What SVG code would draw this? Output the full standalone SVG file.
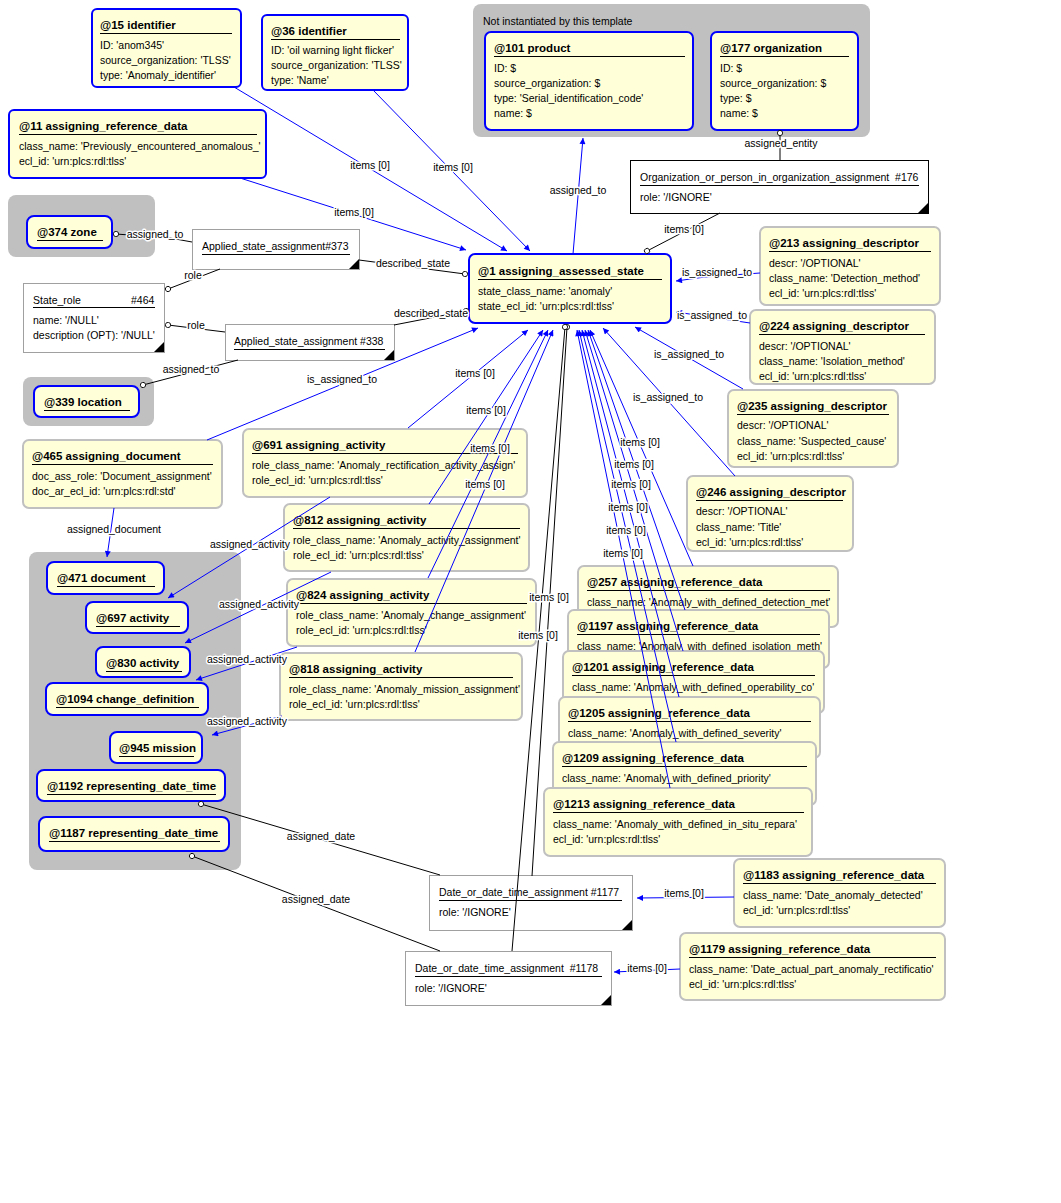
<svg xmlns="http://www.w3.org/2000/svg" width="1061" height="1203" viewBox="0 0 1061 1203">
<style>
.bg{fill:#fff}
.grp{fill:#c0c0c0}
.n{fill:#ffffd8;stroke:#0000ff;stroke-width:2}
.g{fill:#ffffd8;stroke:#c0c0c0;stroke-width:2}
.w{fill:#fff;stroke:#a0a0a0;stroke-width:1}
.wk{fill:#fff;stroke:#000;stroke-width:1}
.t{font-family:"Liberation Sans",Arial,sans-serif;font-size:11.5px;font-weight:bold;fill:#000}
.a{font-family:"Liberation Sans",Arial,sans-serif;font-size:10.5px;fill:#000}
.ul{stroke:#000;stroke-width:1}
.tri{fill:#000}
.bl{stroke:#0000ff;stroke-width:1;fill:none;marker-end:url(#arr)}
.bk{stroke:#000;stroke-width:1;fill:none;marker-end:url(#circ)}
.lb{font-family:"Liberation Sans",Arial,sans-serif;font-size:10.5px;fill:#000;text-anchor:middle;paint-order:stroke;stroke:#fff;stroke-width:3px;stroke-linejoin:round}
</style>
<defs>
<marker id="arr" viewBox="0 0 10 10" refX="10" refY="5" markerWidth="9" markerHeight="6" markerUnits="userSpaceOnUse" orient="auto">
<path d="M0,0 L10,5 L0,10 z" fill="#0000ff"/>
</marker>
<marker id="circ" viewBox="0 0 8 8" refX="4" refY="4" markerWidth="7" markerHeight="7" markerUnits="userSpaceOnUse" orient="auto">
<circle cx="4" cy="4" r="3" fill="#fff" stroke="#000" stroke-width="1"/>
</marker>
</defs>
<rect class="bg" x="0" y="0" width="1061" height="1203"/>

<!-- groups -->
<g id="grp_not_inst">
<rect class="grp" x="473" y="4" width="397" height="133" rx="8"/>
<text class="a" x="483" y="25">Not instantiated by this template</text>
</g>
<g id="grp_zone"><rect class="grp" x="8" y="195" width="147" height="62" rx="8"/></g>
<g id="grp_location"><rect class="grp" x="23" y="377" width="131" height="49" rx="8"/></g>
<g id="grp_left"><rect class="grp" x="29" y="552" width="212" height="318" rx="8"/></g>

<!-- nodes -->
<g id="n15">
<rect class="n" x="92" y="9" width="149" height="78" rx="5"/>
<text class="t" x="100" y="29">@15 identifier</text><line class="ul" x1="100" y1="33.5" x2="232" y2="33.5"/>
<text class="a" x="100" y="49">ID: 'anom345'</text>
<text class="a" x="100" y="64">source_organization: 'TLSS'</text>
<text class="a" x="100" y="79">type: 'Anomaly_identifier'</text>
</g>
<g id="n36">
<rect class="n" x="262" y="15" width="146" height="75" rx="5"/>
<text class="t" x="271" y="35">@36 identifier</text><line class="ul" x1="271" y1="39.5" x2="400" y2="39.5"/>
<text class="a" x="271" y="54">ID: 'oil warning light flicker'</text>
<text class="a" x="271" y="69">source_organization: 'TLSS'</text>
<text class="a" x="271" y="84">type: 'Name'</text>
</g>
<g id="n11">
<rect class="n" x="9" y="110" width="257" height="68" rx="5"/>
<text class="t" x="19" y="130">@11 assigning_reference_data</text><line class="ul" x1="19" y1="134.5" x2="257" y2="134.5"/>
<text class="a" x="19" y="150">class_name: 'Previously_encountered_anomalous_'</text>
<text class="a" x="19" y="165">ecl_id: 'urn:plcs:rdl:tlss'</text>
</g>
<g id="n101">
<rect class="n" x="485" y="32" width="208" height="98" rx="6"/>
<text class="t" x="494" y="52">@101 product</text><line class="ul" x1="494" y1="56.5" x2="685" y2="56.5"/>
<text class="a" x="494" y="72">ID: $</text>
<text class="a" x="494" y="87">source_organization: $</text>
<text class="a" x="494" y="102">type: 'Serial_identification_code'</text>
<text class="a" x="494" y="117">name: $</text>
</g>
<g id="n177">
<rect class="n" x="711" y="32" width="147" height="98" rx="6"/>
<text class="t" x="720" y="52">@177 organization</text><line class="ul" x1="720" y1="56.5" x2="849" y2="56.5"/>
<text class="a" x="720" y="72">ID: $</text>
<text class="a" x="720" y="87">source_organization: $</text>
<text class="a" x="720" y="102">type: $</text>
<text class="a" x="720" y="117">name: $</text>
</g>
<g id="n176">
<rect class="wk" x="630.5" y="160.5" width="298" height="53"/>
<text class="a" x="640" y="181">Organization_or_person_in_organization_assignment&#160; #176</text><line class="ul" x1="640" y1="185.5" x2="919" y2="185.5"/>
<text class="a" x="640" y="201">role: '/IGNORE'</text>
<path class="tri" d="M918,213 L928,203 L928,213 z"/>
</g>
<g id="n374">
<rect class="n" x="27" y="216" width="85" height="32" rx="7"/>
<text class="t" x="37" y="236">@374 zone</text><line class="ul" x1="37" y1="240.5" x2="103" y2="240.5"/>
</g>
<g id="n373">
<rect class="w" x="192.5" y="229.5" width="167" height="40"/>
<text class="a" x="202" y="250">Applied_state_assignment#373</text><line class="ul" x1="202" y1="254.5" x2="350" y2="254.5"/>
<path class="tri" d="M349,269 L359,259 L359,269 z"/>
</g>
<g id="n464">
<rect class="w" x="23.5" y="283.5" width="141" height="69"/>
<text class="a" x="33" y="304">State_role</text><text class="a" x="131" y="304">#464</text>
<line class="ul" x1="33" y1="307.5" x2="155" y2="307.5"/>
<text class="a" x="33" y="324">name: '/NULL'</text>
<text class="a" x="33" y="339">description (OPT): '/NULL'</text>
<path class="tri" d="M154,352 L164,342 L164,352 z"/>
</g>
<g id="n338">
<rect class="w" x="225.5" y="324.5" width="169" height="36"/>
<text class="a" x="234" y="345">Applied_state_assignment #338</text><line class="ul" x1="234" y1="349.5" x2="385" y2="349.5"/>
<path class="tri" d="M384,360 L394,350 L394,360 z"/>
</g>
<g id="n339">
<rect class="n" x="34" y="386" width="105" height="31" rx="7"/>
<text class="t" x="44" y="406">@339 location</text><line class="ul" x1="44" y1="410.5" x2="130" y2="410.5"/>
</g>
<g id="n1">
<rect class="n" x="469" y="254" width="202" height="69" rx="6"/>
<text class="t" x="478" y="275">@1 assigning_assessed_state</text><line class="ul" x1="478" y1="279.5" x2="662" y2="279.5"/>
<text class="a" x="478" y="295">state_class_name: 'anomaly'</text>
<text class="a" x="478" y="310">state_ecl_id: 'urn:plcs:rdl:tlss'</text>
</g>
<g id="n213">
<rect class="g" x="760" y="227" width="180" height="78" rx="6"/>
<text class="t" x="769" y="247">@213 assigning_descriptor</text><line class="ul" x1="769" y1="251.5" x2="931" y2="251.5"/>
<text class="a" x="769" y="267">descr: '/OPTIONAL'</text>
<text class="a" x="769" y="282">class_name: 'Detection_method'</text>
<text class="a" x="769" y="297">ecl_id: 'urn:plcs:rdl:tlss'</text>
</g>
<g id="n224">
<rect class="g" x="750" y="310" width="185" height="74" rx="6"/>
<text class="t" x="759" y="330">@224 assigning_descriptor</text><line class="ul" x1="759" y1="334.5" x2="925" y2="334.5"/>
<text class="a" x="759" y="350">descr: '/OPTIONAL'</text>
<text class="a" x="759" y="365">class_name: 'Isolation_method'</text>
<text class="a" x="759" y="380">ecl_id: 'urn:plcs:rdl:tlss'</text>
</g>
<g id="n235">
<rect class="g" x="728" y="390" width="170" height="77" rx="6"/>
<text class="t" x="737" y="410">@235 assigning_descriptor</text><line class="ul" x1="737" y1="414.5" x2="889" y2="414.5"/>
<text class="a" x="737" y="429">descr: '/OPTIONAL'</text>
<text class="a" x="737" y="445">class_name: 'Suspected_cause'</text>
<text class="a" x="737" y="460">ecl_id: 'urn:plcs:rdl:tlss'</text>
</g>
<g id="n246">
<rect class="g" x="687" y="476" width="166" height="75" rx="6"/>
<text class="t" x="696" y="496">@246 assigning_descriptor</text><line class="ul" x1="696" y1="500.5" x2="843" y2="500.5"/>
<text class="a" x="696" y="515">descr: '/OPTIONAL'</text>
<text class="a" x="696" y="531">class_name: 'Title'</text>
<text class="a" x="696" y="546">ecl_id: 'urn:plcs:rdl:tlss'</text>
</g>
<g id="n465">
<rect class="g" x="23" y="440" width="199" height="68" rx="6"/>
<text class="t" x="32" y="460">@465 assigning_document</text><line class="ul" x1="32" y1="464.5" x2="213" y2="464.5"/>
<text class="a" x="32" y="480">doc_ass_role: 'Document_assignment'</text>
<text class="a" x="32" y="495">doc_ar_ecl_id: 'urn:plcs:rdl:std'</text>
</g>
<g id="n691">
<rect class="g" x="243" y="429" width="284" height="68" rx="6"/>
<text class="t" x="252" y="449">@691 assigning_activity</text><line class="ul" x1="252" y1="453.5" x2="518" y2="453.5"/>
<text class="a" x="252" y="469">role_class_name: 'Anomaly_rectification_activity_assign'</text>
<text class="a" x="252" y="484">role_ecl_id: 'urn:plcs:rdl:tlss'</text>
</g>
<g id="n812">
<rect class="g" x="284" y="504" width="245" height="67" rx="6"/>
<text class="t" x="293" y="524">@812 assigning_activity</text><line class="ul" x1="293" y1="528.5" x2="520" y2="528.5"/>
<text class="a" x="293" y="544">role_class_name: 'Anomaly_activity_assignment'</text>
<text class="a" x="293" y="559">role_ecl_id: 'urn:plcs:rdl:tlss'</text>
</g>
<g id="n824">
<rect class="g" x="287" y="579" width="249" height="67" rx="6"/>
<text class="t" x="296" y="599">@824 assigning_activity</text><line class="ul" x1="296" y1="603.5" x2="527" y2="603.5"/>
<text class="a" x="296" y="619">role_class_name: 'Anomaly_change_assignment'</text>
<text class="a" x="296" y="634">role_ecl_id: 'urn:plcs:rdl:tlss'</text>
</g>
<g id="n818">
<rect class="g" x="280" y="653" width="242" height="67" rx="6"/>
<text class="t" x="289" y="673">@818 assigning_activity</text><line class="ul" x1="289" y1="677.5" x2="513" y2="677.5"/>
<text class="a" x="289" y="693">role_class_name: 'Anomaly_mission_assignment'</text>
<text class="a" x="289" y="708">role_ecl_id: 'urn:plcs:rdl:tlss'</text>
</g>
<g id="n471">
<rect class="n" x="47" y="562" width="117" height="32" rx="7"/>
<text class="t" x="57" y="582">@471 document</text><line class="ul" x1="57" y1="586.5" x2="155" y2="586.5"/>
</g>
<g id="n697">
<rect class="n" x="86" y="602" width="102" height="31" rx="7"/>
<text class="t" x="96" y="622">@697 activity</text><line class="ul" x1="96" y1="626.5" x2="180" y2="626.5"/>
</g>
<g id="n830">
<rect class="n" x="96" y="647" width="94" height="30" rx="7"/>
<text class="t" x="106" y="667">@830 activity</text><line class="ul" x1="106" y1="671.5" x2="182" y2="671.5"/>
</g>
<g id="n1094">
<rect class="n" x="46" y="683" width="162" height="32" rx="7"/>
<text class="t" x="56" y="703">@1094 change_definition</text><line class="ul" x1="56" y1="707.5" x2="199" y2="707.5"/>
</g>
<g id="n945">
<rect class="n" x="110" y="732" width="92" height="31" rx="7"/>
<text class="t" x="119" y="752">@945 mission</text><line class="ul" x1="119" y1="756.5" x2="194" y2="756.5"/>
</g>
<g id="n1192">
<rect class="n" x="37" y="770" width="188" height="31" rx="7"/>
<text class="t" x="47" y="790">@1192 representing_date_time</text><line class="ul" x1="47" y1="794.5" x2="216" y2="794.5"/>
</g>
<g id="n1187">
<rect class="n" x="39" y="817" width="190" height="34" rx="7"/>
<text class="t" x="49" y="837">@1187 representing_date_time</text><line class="ul" x1="49" y1="841.5" x2="220" y2="841.5"/>
</g>
<g id="n257">
<rect class="g" x="578" y="566" width="260" height="61" rx="6"/>
<text class="t" x="587" y="586">@257 assigning_reference_data</text><line class="ul" x1="587" y1="590.5" x2="830" y2="590.5"/>
<text class="a" x="587" y="606">class_name: 'Anomaly_with_defined_detection_met'</text>
</g>
<g id="n1197">
<rect class="g" x="568" y="610" width="261" height="58" rx="6"/>
<text class="t" x="577" y="630">@1197 assigning_reference_data</text><line class="ul" x1="577" y1="634.5" x2="820" y2="634.5"/>
<text class="a" x="577" y="650">class_name: 'Anomaly_with_defined_isolation_meth'</text>
</g>
<g id="n1201">
<rect class="g" x="563" y="651" width="261" height="62" rx="6"/>
<text class="t" x="572" y="671">@1201 assigning_reference_data</text><line class="ul" x1="572" y1="675.5" x2="815" y2="675.5"/>
<text class="a" x="572" y="691">class_name: 'Anomaly_with_defined_operability_co'</text>
</g>
<g id="n1205">
<rect class="g" x="559" y="697" width="261" height="61" rx="6"/>
<text class="t" x="568" y="717">@1205 assigning_reference_data</text><line class="ul" x1="568" y1="721.5" x2="811" y2="721.5"/>
<text class="a" x="568" y="737">class_name: 'Anomaly_with_defined_severity'</text>
</g>
<g id="n1209">
<rect class="g" x="553" y="742" width="263" height="63" rx="6"/>
<text class="t" x="562" y="762">@1209 assigning_reference_data</text><line class="ul" x1="562" y1="766.5" x2="807" y2="766.5"/>
<text class="a" x="562" y="782">class_name: 'Anomaly_with_defined_priority'</text>
</g>
<g id="n1213">
<rect class="g" x="544" y="788" width="268" height="68" rx="6"/>
<text class="t" x="553" y="808">@1213 assigning_reference_data</text><line class="ul" x1="553" y1="812.5" x2="804" y2="812.5"/>
<text class="a" x="553" y="828">class_name: 'Anomaly_with_defined_in_situ_repara'</text>
<text class="a" x="553" y="843">ecl_id: 'urn:plcs:rdl:tlss'</text>
</g>
<g id="n1183">
<rect class="g" x="734" y="859" width="211" height="68" rx="6"/>
<text class="t" x="743" y="879">@1183 assigning_reference_data</text><line class="ul" x1="743" y1="883.5" x2="936" y2="883.5"/>
<text class="a" x="743" y="899">class_name: 'Date_anomaly_detected'</text>
<text class="a" x="743" y="914">ecl_id: 'urn:plcs:rdl:tlss'</text>
</g>
<g id="n1179">
<rect class="g" x="680" y="933" width="265" height="67" rx="6"/>
<text class="t" x="689" y="953">@1179 assigning_reference_data</text><line class="ul" x1="689" y1="957.5" x2="936" y2="957.5"/>
<text class="a" x="689" y="973">class_name: 'Date_actual_part_anomaly_rectificatio'</text>
<text class="a" x="689" y="988">ecl_id: 'urn:plcs:rdl:tlss'</text>
</g>
<g id="n1177">
<rect class="w" x="429.5" y="875.5" width="203" height="55"/>
<text class="a" x="439" y="896">Date_or_date_time_assignment #1177</text><line class="ul" x1="439" y1="900.5" x2="622" y2="900.5"/>
<text class="a" x="439" y="916">role: '/IGNORE'</text>
<path class="tri" d="M622,930 L632,920 L632,930 z"/>
</g>
<g id="n1178">
<rect class="w" x="405.5" y="951.5" width="206" height="54"/>
<text class="a" x="415" y="972">Date_or_date_time_assignment&#160; #1178</text><line class="ul" x1="415" y1="976.5" x2="602" y2="976.5"/>
<text class="a" x="415" y="992">role: '/IGNORE'</text>
<path class="tri" d="M601,1005 L611,995 L611,1005 z"/>
</g>

<!-- connectors -->
<g id="connectors">
<path class="bl" d="M234,87 L507,251"/>
<path class="bl" d="M373,90 L530,251"/>
<path class="bl" d="M240,178 L466,250"/>
<path class="bl" d="M573,254 L583,138"/>
<path class="bl" d="M207,440 L478,328"/>
<path class="bl" d="M408,428 L528,330"/>
<path class="bl" d="M429,504 L543,330"/>
<path class="bl" d="M428,578 L548,330"/>
<path class="bl" d="M415,652 L553,330"/>
<path class="bl" d="M760,273 L705,277 L676,281"/>
<path class="bl" d="M750,323 L676,312"/>
<path class="bl" d="M743,389 L635,327"/>
<path class="bl" d="M735,476 L603,328"/>
<path class="bl" d="M693,566 L590,330"/>
<path class="bl" d="M685,610 L588,330"/>
<path class="bl" d="M683,651 L585,330"/>
<path class="bl" d="M679,697 L582,330"/>
<path class="bl" d="M676,742 L579,330"/>
<path class="bl" d="M670,788 L577,330"/>
<path class="bl" d="M114,508 L107,557"/>
<path class="bl" d="M330,497 L168,598"/>
<path class="bl" d="M331,572 L185,643"/>
<path class="bl" d="M297,647 L196,680"/>
<path class="bl" d="M282,716 L212,735"/>
<path class="bl" d="M734,897 L637,898"/>
<path class="bl" d="M680,969 L614,972"/>

<path class="bk" d="M780,160 L780,133"/>
<path class="bk" d="M720,213 L647,251"/>
<path class="bk" d="M192,242 L170,238 L116,234"/>
<path class="bk" d="M220,269 L168,289"/>
<path class="bk" d="M359,260 L465,274"/>
<path class="bk" d="M225,332 L168,325"/>
<path class="bk" d="M394,325 L466,311"/>
<path class="bk" d="M238,360 L143,385"/>
<path class="bk" d="M532,876 L567,327"/>
<path class="bk" d="M512,951 L565,327"/>
<path class="bk" d="M440,875 L201,804"/>
<path class="bk" d="M440,951 L192,856"/>

<text class="lb" x="370" y="169">items [0]</text>
<text class="lb" x="453" y="171">items [0]</text>
<text class="lb" x="354" y="216">items [0]</text>
<text class="lb" x="578" y="194">assigned_to</text>
<text class="lb" x="781" y="147">assigned_entity</text>
<text class="lb" x="684" y="233">items [0]</text>
<text class="lb" x="155" y="238">assigned_to</text>
<text class="lb" x="193" y="279">role</text>
<text class="lb" x="413" y="267">described_state</text>
<text class="lb" x="196" y="329">role</text>
<text class="lb" x="431" y="317">described_state</text>
<text class="lb" x="191" y="373">assigned_to</text>
<text class="lb" x="342" y="383">is_assigned_to</text>
<text class="lb" x="475" y="377">items [0]</text>
<text class="lb" x="486" y="414">items [0]</text>
<text class="lb" x="490" y="452">items [0]</text>
<text class="lb" x="485" y="488">items [0]</text>
<text class="lb" x="717" y="276">is_assigned_to</text>
<text class="lb" x="712" y="319">is_assigned_to</text>
<text class="lb" x="689" y="358">is_assigned_to</text>
<text class="lb" x="668" y="401">is_assigned_to</text>
<text class="lb" x="640" y="446">items [0]</text>
<text class="lb" x="634" y="468">items [0]</text>
<text class="lb" x="631" y="488">items [0]</text>
<text class="lb" x="628" y="511">items [0]</text>
<text class="lb" x="626" y="534">items [0]</text>
<text class="lb" x="623" y="557">items [0]</text>
<text class="lb" x="549" y="601">items [0]</text>
<text class="lb" x="538" y="639">items [0]</text>
<text class="lb" x="114" y="533">assigned_document</text>
<text class="lb" x="250" y="548">assigned_activity</text>
<text class="lb" x="259" y="608">assigned_activity</text>
<text class="lb" x="247" y="663">assigned_activity</text>
<text class="lb" x="247" y="725">assigned_activity</text>
<text class="lb" x="321" y="840">assigned_date</text>
<text class="lb" x="316" y="903">assigned_date</text>
<text class="lb" x="684" y="897">items [0]</text>
<text class="lb" x="647" y="972">items [0]</text>
</g>
</svg>
